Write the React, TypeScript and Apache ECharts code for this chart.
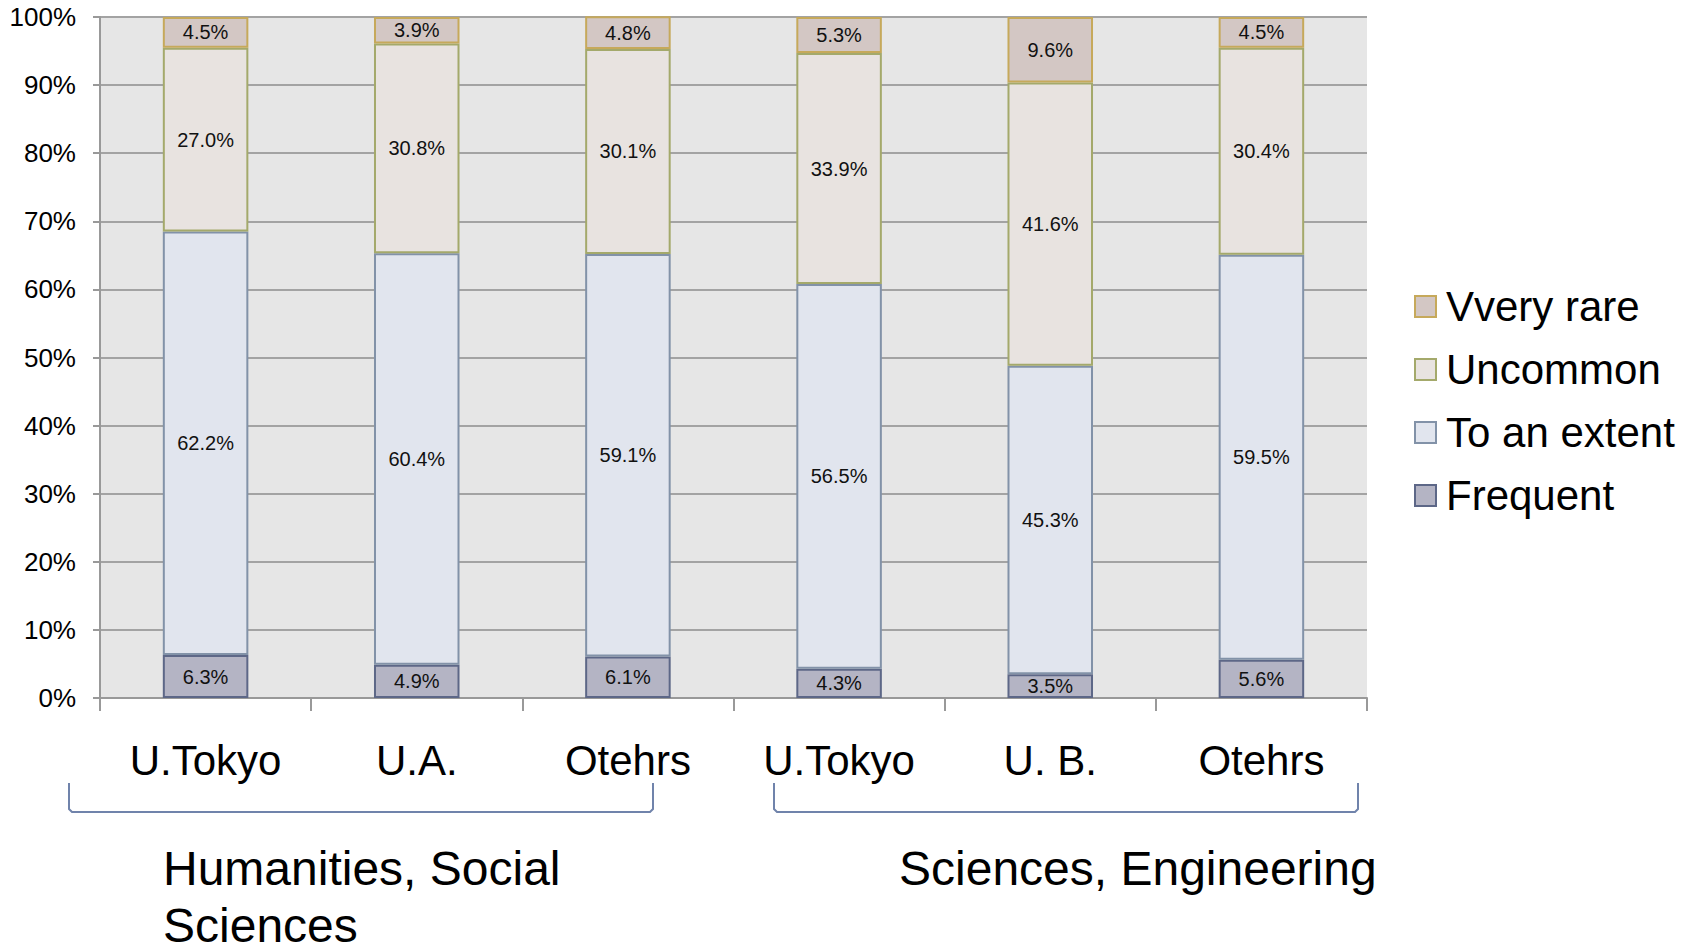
import React, { useEffect, useRef } from "react";
import * as echarts from "echarts";

const categories = ["U.Tokyo", "U.A.", "Otehrs", "U.Tokyo", "U. B.", "Otehrs"];
const frequent = [6.3, 4.9, 6.1, 4.3, 3.5, 5.6];
const toAnExtent = [62.2, 60.4, 59.1, 56.5, 45.3, 59.5];
const uncommon = [27.0, 30.8, 30.1, 33.9, 41.6, 30.4];
const veryRare = [4.5, 3.9, 4.8, 5.3, 9.6, 4.5];
const groupLabels = ["Humanities, Social\nSciences", "Sciences, Engineering"];
const yTicks = [0, 100, 10];

const FONT = "Liberation Sans, Arial, sans-serif";

const seriesDefs = [
  { name: "Frequent", data: frequent, fill: "#b4b4c4", border: "#5d6787" },
  { name: "To an extent", data: toAnExtent, fill: "#e1e5ee", border: "#8292a8" },
  { name: "Uncommon", data: uncommon, fill: "#e8e3e0", border: "#a4a96b" },
  { name: "Vvery rare", data: veryRare, fill: "#d3c7c4", border: "#c6a95b" },
];

const groupX = [163, 899];
const LINE_GAP = 57;
const FIRST_LINE_CENTER = 868;

export default function App() {
  const ref = useRef<HTMLDivElement>(null);
  useEffect(() => {
    document.body.style.margin = "0";
    if (!ref.current) return;
    const chart = echarts.init(ref.current, undefined, { renderer: "svg" });
    const series = seriesDefs.map((s) => ({
      name: s.name,
      type: "bar",
      stack: "total",
      barWidth: "40.5%",
      data: s.data,
      itemStyle: { color: s.fill, borderColor: s.border, borderWidth: 2 },
      label: {
        show: true,
        position: "inside",
        fontSize: 20,
        fontFamily: FONT,
        color: "#111",
        formatter: (p: any) => Number(p.value).toFixed(1) + "%",
      },
    }));
    const legendData = [...seriesDefs].reverse().map((s) => ({
      name: s.name,
      icon: "rect",
      itemStyle: { color: s.fill, borderColor: s.border, borderWidth: 2 },
    }));
    const groupTexts: any[] = [];
    groupLabels.forEach((label, gi) => {
      label.split("\n").forEach((line, li) => {
        groupTexts.push({
          type: "text",
          x: groupX[gi],
          y: FIRST_LINE_CENTER + li * LINE_GAP,
          style: {
            text: line,
            fontSize: 48,
            lineHeight: 46,
            fontFamily: FONT,
            fill: "#000",
            verticalAlign: "middle",
            align: "left",
          },
        });
      });
    });
    chart.setOption({
      animation: false,
      grid: {
        left: 100,
        top: 17,
        right: 329,
        bottom: 247,
        show: true,
        backgroundColor: "#e6e6e6",
        borderWidth: 0,
      },
      legend: {
        orient: "vertical",
        left: 1409,
        top: 279,
        itemWidth: 21,
        itemHeight: 21,
        itemGap: 18,
        data: legendData,
        textStyle: { fontSize: 42, fontFamily: FONT, color: "#000", lineHeight: 45, padding: [0, 0, 0, 5] },
      },
      xAxis: {
        type: "category",
        data: categories,
        axisLine: { lineStyle: { color: "#999", width: 2 } },
        axisTick: { show: true, length: 13, lineStyle: { color: "#999", width: 2 } },
        axisLabel: { fontSize: 42, fontFamily: FONT, color: "#000", margin: 41 },
      },
      yAxis: {
        type: "value",
        min: yTicks[0],
        max: yTicks[1],
        interval: yTicks[2],
        axisLine: { show: true, lineStyle: { color: "#999", width: 2 } },
        axisTick: { show: true, length: 7, lineStyle: { color: "#999", width: 2 } },
        splitLine: { lineStyle: { color: "#a3a3a3", width: 2 } },
        axisLabel: { fontSize: 26, fontFamily: FONT, color: "#000", margin: 24, formatter: "{value}%" },
      },
      series,
      graphic: [
        {
          type: "polyline",
          shape: { points: [[69, 783], [69, 809], [72, 812], [650, 812], [653, 809], [653, 783]] },
          style: { stroke: "#7083ab", lineWidth: 2, fill: "none" },
        },
        {
          type: "polyline",
          shape: { points: [[774, 783], [774, 809], [777, 812], [1355, 812], [1358, 809], [1358, 783]] },
          style: { stroke: "#7083ab", lineWidth: 2, fill: "none" },
        },
        ...groupTexts,
      ],
    });
    return () => chart.dispose();
  }, []);
  return <div ref={ref} style={{ width: 1696, height: 945 }} />;
}
